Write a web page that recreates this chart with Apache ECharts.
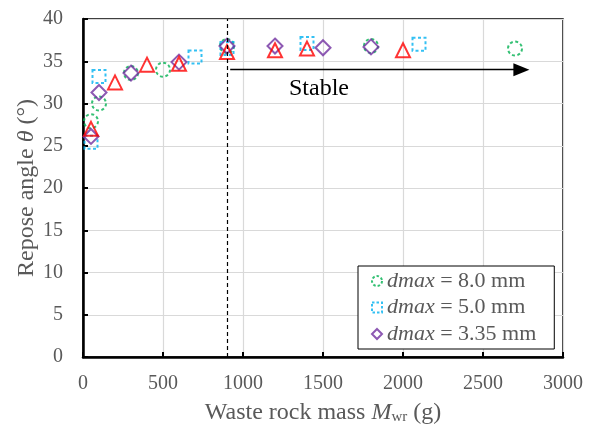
<!DOCTYPE html>
<html>
<head>
<meta charset="utf-8">
<script src="https://cdn.jsdelivr.net/npm/echarts@6/dist/echarts.min.js"></script>
<style>
    html, body { margin: 0; padding: 0; background: #fff; }
    #chart { width: 591px; height: 426px; }
</style>
</head>
<body>
<div id="chart"></div>
<script>
    // values
    let mass8 = [50, 100, 300, 500, 900, 1800, 2700];
    let angle8 = [27.9, 30.0, 33.6, 34.0, 36.8, 36.8, 36.5];

    let mass5 = [50, 100, 700, 900, 1400, 2100];
    let angle5 = [25.4, 33.2, 35.5, 36.5, 37.1, 37.0];

    let mass335 = [50, 100, 300, 600, 900, 1200, 1500, 1800];
    let angle335 = [26.1, 31.3, 33.6, 34.9, 36.8, 36.8, 36.6, 36.7];

    let massRed = [50, 200, 400, 600, 900, 1200, 1400, 2000];
    let angleRed = [27.0, 32.5, 34.6, 34.7, 36.1, 36.3, 36.5, 36.3];

    let legendNames = ['8.0', '5.0', '3.35'];
    let legendDashed = [true, true, false];

    let stableStart = 900;
    let arrowFrom = [920, 34];
    let arrowTo = [2740, 34];
    let stableAt = [1475, 31.8];

    let font = 'Liberation Serif';
    let grey = '#595959';

    function pairs(xs, ys){
        let out = [];
        for (let i = 0; i < xs.length; i++){
            out.push([xs[i], ys[i]]);
        }
        return out;
    }

    function hollow(name, data, symbol, color, size, dashed){
        return {
            name: name,
            type: 'scatter',
            symbol: symbol,
            symbolSize: size,
            data: data,
            itemStyle: {
                color: 'rgba(0,0,0,0)',
                borderColor: color,
                borderWidth: 2,
                borderType: dashed ? [3, 2.5] : 'solid'
            }
        };
    }

    let chart = echarts.init(document.getElementById('chart'));

    let s8 = hollow('8.0', pairs(mass8, angle8), 'circle', '#00b050', 14, true);
    let s5 = hollow('5.0', pairs(mass5, angle5), 'rect', '#00b0f0', 13, true);
    let s335 = hollow('3.35', pairs(mass335, angle335), 'diamond', '#7030a0', 15, false);
    let sRed = hollow('red', pairs(massRed, angleRed), 'triangle', '#ff0000', 14, false);

    sRed.markLine = {
        silent: true,
        symbol: ['none', 'none'],
        label: { show: false },
        lineStyle: { color: '#000', width: 1.2, type: [4, 3] },
        data: [{ xAxis: stableStart }]
    };
    s8.markLine = {
        silent: true,
        symbol: ['none', 'triangle'],
        symbolSize: [13, 16],
        label: { show: false },
        lineStyle: { color: '#000', width: 1.3, type: 'solid' },
        data: [[{ coord: arrowFrom }, { coord: arrowTo }]]
    };
    s8.markPoint = {
        silent: true,
        symbol: 'circle',
        symbolSize: 0,
        label: {
            show: true,
            formatter: 'Stable',
            color: '#000',
            fontFamily: font,
            fontSize: 24
        },
        data: [{ coord: stableAt }]
    };

    let option = {
        animation: false,
        textStyle: { fontFamily: font },
        grid: {
            left: 83, right: 28, top: 19, bottom: 69,
            outerBoundsMode: 'none',
            show: true,
            borderColor: '#000',
            borderWidth: 1.5
        },
        legend: {
            data: legendNames.map(function(n, i){
                return { name: n, itemStyle: { borderType: legendDashed[i] ? [2.5, 2] : 'solid' } };
            }),
            orient: 'vertical',
            left: 358,
            top: 266,
            itemWidth: 10,
            itemHeight: 10,
            itemGap: 4.5,
            padding: [4, 18, 4, 13],
            backgroundColor: '#fff',
            borderColor: '#000',
            borderWidth: 1,
            formatter: function(name){
                return '{i|dmax} = ' + name + ' mm';
            },
            textStyle: {
                color: grey,
                fontFamily: font,
                fontSize: 22,
                rich: {
                    i: { fontStyle: 'italic', color: grey, fontFamily: font, fontSize: 22 }
                }
            }
        },
        xAxis: {
            type: 'value',
            min: 0,
            max: 3000,
            interval: 500,
            name: 'Waste rock mass {i|M}{s|wr} (g)',
            nameLocation: 'middle',
            nameGap: 44,
            nameMoveOverlap: false,
            nameTextStyle: {
                color: grey,
                fontFamily: font,
                fontSize: 24,
                rich: {
                    i: { fontStyle: 'italic', color: grey, fontFamily: font, fontSize: 24 },
                    s: { color: grey, fontFamily: font, fontSize: 15, padding: [9, 0, 0, 0] }
                }
            },
            axisLine: { lineStyle: { color: '#000', width: 2.5 } },
            axisTick: { inside: true, length: 5, lineStyle: { color: '#000', width: 2 } },
            axisLabel: {
                color: grey, fontFamily: font, fontSize: 20, margin: 17,
                formatter: function(v){ return String(v); }
            },
            splitLine: { lineStyle: { color: '#d9d9d9', width: 1.2 } }
        },
        yAxis: {
            type: 'value',
            min: 0,
            max: 40,
            interval: 5,
            name: 'Repose angle {i|θ} (°)',
            nameLocation: 'middle',
            nameGap: 44,
            nameMoveOverlap: false,
            nameTextStyle: {
                color: grey,
                fontFamily: font,
                fontSize: 24,
                rich: {
                    i: { fontStyle: 'italic', color: grey, fontFamily: font, fontSize: 24 }
                }
            },
            axisLine: { lineStyle: { color: '#000', width: 2.5 } },
            axisTick: { inside: true, length: 5, lineStyle: { color: '#000', width: 2 } },
            axisLabel: { color: grey, fontFamily: font, fontSize: 20, margin: 20 },
            splitLine: { lineStyle: { color: '#d9d9d9', width: 1.2 } }
        },
        series: [s8, s5, s335, sRed]
    };

    chart.setOption(option);
</script>
</body>
</html>
